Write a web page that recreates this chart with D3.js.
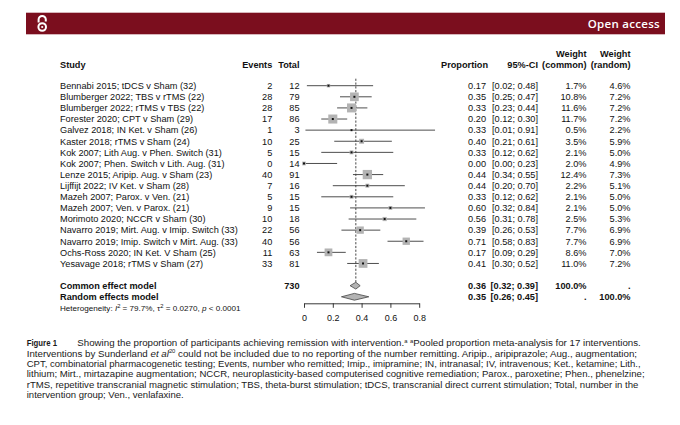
<!DOCTYPE html>
<html>
<head>
<meta charset="utf-8">
<script src="https://d3js.org/d3.v7.min.js"></script>
<style>
  body { margin: 0; background: #fff; }
  svg { display: block; }
  .tbl { font-family: "Liberation Sans", Arial, sans-serif; font-size: 9.2px; fill: #111; }
  .hdr { font-weight: bold; }
  .cap { font-family: "Liberation Sans", Arial, sans-serif; font-size: 9px; fill: #1a1a1a; }
</style>
</head>
<body>
<div id="chart"></div>
<script>
// ---- data ----
const studies = [
  "Bennabi 2015; tDCS v Sham (32)",
  "Blumberger 2022; TBS v rTMS (22)",
  "Blumberger 2022; rTMS v TBS (22)",
  "Forester 2020; CPT v Sham (29)",
  "Galvez 2018; IN Ket. v Sham (26)",
  "Kaster 2018; rTMS v Sham (24)",
  "Kok 2007; Lith Aug. v Phen. Switch (31)",
  "Kok 2007; Phen. Switch v Lith. Aug. (31)",
  "Lenze 2015; Aripip. Aug. v Sham (23)",
  "Lijffijt 2022; IV Ket. v Sham (28)",
  "Mazeh 2007; Parox. v Ven. (21)",
  "Mazeh 2007; Ven. v Parox. (21)",
  "Morimoto 2020; NCCR v Sham (30)",
  "Navarro 2019; Mirt. Aug. v Imip. Switch (33)",
  "Navarro 2019; Imip. Switch v Mirt. Aug. (33)",
  "Ochs-Ross 2020; IN Ket. V Sham (25)",
  "Yesavage 2018; rTMS v Sham (27)"
];
const events = [2, 28, 28, 17, 1, 10, 5, 0, 40, 7, 5, 9, 10, 22, 40, 11, 33];
const totals = [12, 79, 85, 86, 3, 25, 15, 14, 91, 16, 15, 15, 18, 56, 56, 63, 81];
const proportion = [0.17, 0.35, 0.33, 0.20, 0.33, 0.40, 0.33, 0.00, 0.44, 0.44, 0.33, 0.60, 0.56, 0.39, 0.71, 0.17, 0.41];
const ciLower = [0.02, 0.25, 0.23, 0.12, 0.01, 0.21, 0.12, 0.00, 0.34, 0.20, 0.12, 0.32, 0.31, 0.26, 0.58, 0.09, 0.30];
const ciUpper = [0.48, 0.47, 0.44, 0.30, 0.91, 0.61, 0.62, 0.23, 0.55, 0.70, 0.62, 0.84, 0.78, 0.53, 0.83, 0.29, 0.52];
const weightCommon = [1.7, 10.8, 11.6, 11.7, 0.5, 3.5, 2.1, 2.0, 12.4, 2.2, 2.1, 2.1, 2.5, 7.7, 7.7, 8.6, 11.0];
const weightRandom = [4.6, 7.2, 7.2, 7.2, 2.2, 5.9, 5.0, 4.9, 7.3, 5.1, 5.0, 5.0, 5.3, 6.9, 6.9, 7.0, 7.2];

const pooledModels = ["Common effect model", "Random effects model"];
const pooledProp = [0.36, 0.35];
const pooledLower = [0.32, 0.26];
const pooledUpper = [0.39, 0.45];
const pooledWCommon = ["100.0%", "."];
const pooledWRandom = [".", "100.0%"];
const totalParticipants = 730;

const tickValues = [0, 0.2, 0.4, 0.6, 0.8];

// ---- drawing ----
const W = 680, H = 425;
const svg = d3.select("#chart").append("svg").attr("width", W).attr("height", H);

// journal banner
svg.append("rect").attr("x", 26).attr("y", 12.7).attr("width", 639).attr("height", 21.6).attr("fill", "#7b0e1e");
const oa = svg.append("g").attr("fill", "none").attr("stroke", "#fff").attr("stroke-width", 2);
oa.append("circle").attr("cx", 42.2).attr("cy", 27).attr("r", 3.8);
oa.append("path").attr("d", "M38.6,22.5 L38.6,19.5 A3.6,3.6 0 0 1 45.8,19.5 L45.8,21.5");
svg.append("circle").attr("cx", 42.2).attr("cy", 27).attr("r", 1.1).attr("fill", "#fff");
svg.append("text").attr("x", 660).attr("y", 28).attr("text-anchor", "end")
  .attr("font-family", "'Open Sans', sans-serif").attr("font-weight", 600).attr("font-size", 11.5)
  .attr("letter-spacing", 0.3).attr("fill", "#fff").text("Open access");

// layout of the table columns
const col = { study: 60, events: 272.3, total: 299.5, prop: 486, ci: 538, wc: 586.5, wr: 630.5 };

const x = d3.scaleLinear().domain([0, 0.8]).range([304, 419.2]);
const y = d3.scaleLinear().domain([0, 1]).range([85.7, 96.81]);
const side = d3.scaleSqrt().domain([0, 12.4]).range([0, 9.3]);

const f2 = d3.format(".2f"), f1 = d3.format(".1f");
const rows = studies.map((s, i) => ({
  i, s, e: events[i], n: totals[i], p: proportion[i], lo: ciLower[i], hi: ciUpper[i],
  wc: weightCommon[i], wr: weightRandom[i]
}));

const tbl = svg.append("g").attr("class", "tbl");

// header
const h1 = 56.5, h2 = 68;
tbl.append("text").attr("class", "hdr").attr("x", col.study).attr("y", h2).text("Study");
tbl.append("text").attr("class", "hdr").attr("x", col.events).attr("y", h2).attr("text-anchor", "end").text("Events");
tbl.append("text").attr("class", "hdr").attr("x", col.total).attr("y", h2).attr("text-anchor", "end").text("Total");
tbl.append("text").attr("class", "hdr").attr("x", col.prop + 2).attr("y", h2).attr("text-anchor", "end").text("Proportion");
tbl.append("text").attr("class", "hdr").attr("x", col.ci).attr("y", h2).attr("text-anchor", "end").text("95%-CI");
tbl.append("text").attr("class", "hdr").attr("x", col.wc).attr("y", h1).attr("text-anchor", "end").text("Weight");
tbl.append("text").attr("class", "hdr").attr("x", col.wc).attr("y", h2).attr("text-anchor", "end").text("(common)");
tbl.append("text").attr("class", "hdr").attr("x", col.wr).attr("y", h1).attr("text-anchor", "end").text("Weight");
tbl.append("text").attr("class", "hdr").attr("x", col.wr).attr("y", h2).attr("text-anchor", "end").text("(random)");

// study rows
const textCols = [
  { x: col.study, anchor: "start", v: d => d.s },
  { x: col.events, anchor: "end", v: d => d.e },
  { x: col.total, anchor: "end", v: d => d.n },
  { x: col.prop, anchor: "end", v: d => f2(d.p) },
  { x: col.ci, anchor: "end", v: d => `[${f2(d.lo)}; ${f2(d.hi)}]` },
  { x: col.wc, anchor: "end", v: d => f1(d.wc) + "%" },
  { x: col.wr, anchor: "end", v: d => f1(d.wr) + "%" }
];
textCols.forEach(c => {
  tbl.selectAll(null).data(rows).enter().append("text")
    .attr("x", c.x).attr("y", d => y(d.i)).attr("dy", "0.36em")
    .attr("text-anchor", c.anchor).text(c.v);
});

// pooled rows
const pooled = pooledModels.map((m, k) => ({
  k, m, p: pooledProp[k], lo: pooledLower[k], hi: pooledUpper[k],
  wc: pooledWCommon[k], wr: pooledWRandom[k], row: studies.length + 1 + k
}));
const pCols = [
  { x: col.study, anchor: "start", v: d => d.m },
  { x: col.total, anchor: "end", v: d => d.k === 0 ? totalParticipants : "" },
  { x: col.prop, anchor: "end", v: d => f2(d.p) },
  { x: col.ci, anchor: "end", v: d => `[${f2(d.lo)}; ${f2(d.hi)}]` },
  { x: col.wc, anchor: "end", v: d => d.wc },
  { x: col.wr, anchor: "end", v: d => d.wr }
];
pCols.forEach(c => {
  tbl.selectAll(null).data(pooled).enter().append("text").attr("class", "hdr")
    .attr("x", c.x).attr("y", d => y(d.row)).attr("dy", "0.36em")
    .attr("text-anchor", c.anchor).text(c.v);
});

// heterogeneity
const het = tbl.append("text").attr("x", col.study).attr("y", y(studies.length + 3)).attr("dy", "0.36em")
  .attr("font-size", 8.1);
het.append("tspan").text("Heterogeneity: ");
het.append("tspan").attr("font-style", "italic").text("I");
het.append("tspan").attr("font-size", 5.8).attr("dy", -3.2).text("2");
het.append("tspan").attr("dy", 3.2).text(" = 79.7%, \u03C4");
het.append("tspan").attr("font-size", 5.8).attr("dy", -3.2).text("2");
het.append("tspan").attr("dy", 3.2).text(" = 0.0270, ");
het.append("tspan").attr("font-style", "italic").text("p");
het.append("tspan").text(" < 0.0001");

// forest plot
const plot = svg.append("g");
plot.append("line")
  .attr("x1", x(pooledProp[0])).attr("x2", x(pooledProp[0]))
  .attr("y1", y(0) - 7).attr("y2", y(studies.length + 1) - 3.5)
  .attr("stroke", "#333").attr("stroke-width", 0.9).attr("stroke-dasharray", "2.2,1.6");

plot.selectAll(".ci").data(rows).enter().append("line")
  .attr("x1", d => x(d.lo)).attr("x2", d => x(d.hi))
  .attr("y1", d => y(d.i)).attr("y2", d => y(d.i))
  .attr("stroke", "#3a3a3a").attr("stroke-width", 0.9);
plot.selectAll(".sq").data(rows).enter().append("rect")
  .attr("x", d => x(d.p) - side(d.wc) / 2).attr("y", d => y(d.i) - side(d.wc) / 2)
  .attr("width", d => side(d.wc)).attr("height", d => side(d.wc))
  .attr("fill", "#b3b3b3");
plot.selectAll(".pt").data(rows).enter().append("rect")
  .attr("x", d => x(d.p) - 1).attr("y", d => y(d.i) - 1)
  .attr("width", 2).attr("height", 2).attr("fill", "#111");

plot.selectAll(".dia").data(pooled).enter().append("path")
  .attr("d", d => {
    const cy = y(d.row), hh = 3.4;
    return `M${x(d.lo)},${cy} L${x(d.p)},${cy - hh} L${x(d.hi)},${cy} L${x(d.p)},${cy + hh} Z`;
  })
  .attr("fill", "#b3b3b3").attr("stroke", "#444").attr("stroke-width", 0.8);

const axis = d3.axisBottom(x).tickValues(tickValues).tickSize(4.5).tickSizeOuter(0).tickPadding(7)
  .tickFormat(d => d === 0 ? "0" : d3.format(".1f")(d));
const ax = svg.append("g").attr("transform", "translate(0,303.3)").call(axis);
ax.select(".domain").attr("stroke", "#222").attr("stroke-width", 0.9);
ax.selectAll(".tick line").attr("stroke", "#222").attr("stroke-width", 0.9);
ax.selectAll(".tick text").attr("font-family", "'Liberation Sans', Arial, sans-serif")
  .attr("font-size", 9).attr("fill", "#111");

// caption (each line squeezed to the width it has in the print)
const capLines = [
  { x: 26.7, end: 57, size: 9.8, segs: [["Figure 1", "b"]] },
  { x: 77.3, end: 641.7, segs: [["Showing the proportion of participants achieving remission with intervention."], ["a", "s"], [" "], ["a", "s"], ["Pooled proportion meta-analysis for 17 interventions."]] },
  { x: 26.7, end: 638.3, segs: [["Interventions by Sunderland "], ["et al", "i"], ["20", "s"], [" could not be included due to no reporting of the number remitting. Aripip., aripiprazole; Aug., augmentation;"]] },
  { x: 26.7, end: 641.7, segs: [["CPT, combinatorial pharmacogenetic testing; Events, number who remitted; Imip., imipramine; IN, intranasal; IV, intravenous; Ket., ketamine; Lith.,"]] },
  { x: 26.7, end: 645, segs: [["lithium; Mirt., mirtazapine augmentation; NCCR, neuroplasticity-based computerised cognitive remediation; Parox., paroxetine; Phen., phenelzine;"]] },
  { x: 26.7, end: 639.3, segs: [["rTMS, repetitive transcranial magnetic stimulation; TBS, theta-burst stimulation; tDCS, transcranial direct current stimulation; Total, number in the"]] },
  { x: 26.7, end: 184, segs: [["intervention group; Ven., venlafaxine."]] }
];
const capY = [346, 346, 356.6, 367, 377.4, 387.8, 398.2];

capLines.forEach((ln, k) => {
  const g = svg.append("g");
  const t = g.append("text").attr("class", "cap").attr("x", 0).attr("y", 0);
  if (ln.size) t.attr("font-size", ln.size);
  let raised = false;
  ln.segs.forEach(s => {
    const ts = t.append("tspan").text(s[0]);
    if (s[1] === "i") ts.attr("font-style", "italic");
    if (s[1] === "b") ts.attr("font-weight", "bold");
    if (s[1] === "s") {
      ts.attr("font-size", 5.4);
      if (!raised) ts.attr("dy", -3.4);
      raised = true;
    } else if (raised) {
      ts.attr("dy", 3.4);
      raised = false;
    }
  });
  const w = t.node().getComputedTextLength();
  const sx = (ln.end - ln.x) / w;
  g.attr("transform", `translate(${ln.x},${capY[k]}) scale(${sx},1)`);
});
</script>
</body>
</html>
